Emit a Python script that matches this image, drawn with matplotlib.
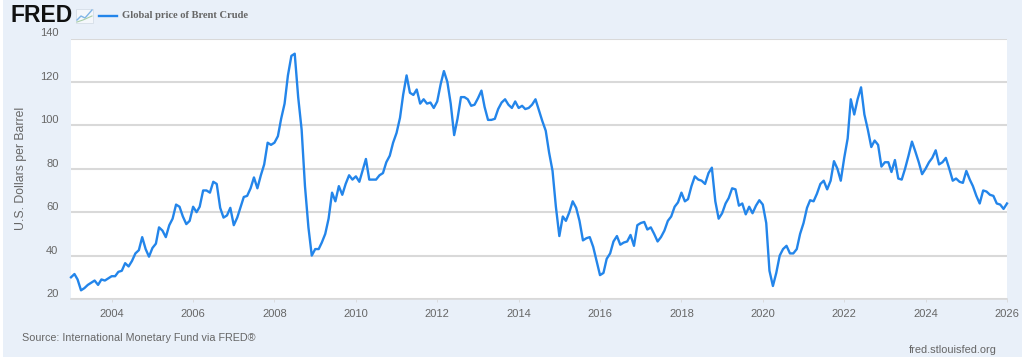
import matplotlib
matplotlib.use('Agg')
import matplotlib.pyplot as plt
import matplotlib.dates as mdates
import pandas as pd
from matplotlib.patches import Rectangle

W, H = 1024, 360

# monthly values, Jan 2003 - Jan 2026
brent = [
	30, 31.5, 29, 24, 25, 26.5, 27.5, 28.5, 26.5, 29, 28.5, 29.5,
	30.5, 30.5, 32.5, 33, 36.5, 35, 37.5, 41, 42.5, 48.5, 43, 39.5,
	43.5, 45.5, 53, 51.5, 48.5, 54, 57, 63.5, 62.5, 58, 54.5, 56,
	62.5, 60, 62.5, 70, 70, 69, 74, 73, 62, 57.5, 58.5, 62,
	54, 57.5, 62, 67, 67.5, 71, 76, 71, 77, 82, 92, 91,
	92, 95, 103, 110, 123, 132, 133, 113, 98, 72, 53, 40,
	43, 43, 46, 50, 57, 69, 65, 72, 68, 73, 77, 75,
	76.5, 74, 79, 84.5, 75, 75, 75, 77, 78, 83, 86, 92,
	96.5, 103.5, 114, 123, 115, 114, 116.5, 110, 112, 110, 110.5, 108,
	111, 119, 125, 120, 110, 95.5, 103, 113, 113, 112, 109, 109.5,
	112.5, 116, 108.5, 102.5, 102.5, 103, 107.5, 110.5, 112, 109.5, 108, 111,
	108, 109, 107.5, 108, 109.5, 112, 107, 102, 97.5, 87.5, 79, 62.5,
	49, 58, 56, 60, 65, 62, 56, 47, 48, 48.5, 44, 37.5,
	31, 32, 38.5, 41, 46.5, 49, 45, 46, 46.5, 49.5, 44.5, 54,
	55, 55.5, 52, 53, 50, 46.5, 48.5, 51.5, 56, 58, 62.5, 64.5,
	69, 65, 66, 72, 76.5, 75, 74.5, 73, 78, 80.5, 65, 57,
	59.5, 64, 66.5, 71, 70.5, 63, 64, 59, 62.5, 59.5, 63, 65.5,
	63.5, 55, 33, 26, 32, 40, 43, 44.5, 41, 41, 43, 50,
	55, 62, 65.5, 65, 68.5, 73, 74.5, 70.5, 74.5, 83.5, 80, 74.5,
	85, 94, 112, 105, 112, 117.5, 105, 98, 90, 93, 91, 81,
	83, 83, 78.5, 84, 75.5, 75, 80, 86, 92.5, 88, 83, 77.5,
	80, 83, 85, 88.5, 82, 83, 85, 80, 74.5, 75.5, 74, 73.5,
	79, 75, 72, 67.5, 64, 70, 69.5, 68, 67.5, 64, 63.5, 61.5,
	64,
]
year_ticks = list(range(2004, 2028, 2))
price_ticks = [20, 40, 60, 80, 100, 120, 140]

series_name = 'Global price of Brent Crude'
y_title = 'U.S. Dollars per Barrel'
source = 'International Monetary Fund via FRED\u00ae'

panel_bg = '#e9f0f9'
line_col = '#2385ea'
grid_col = '#d9d9d9'
text_col = '#666666'

plt.rcParams['font.family'] = ['Liberation Sans', 'DejaVu Sans']

def fx(px):
	return px / W

def fy(py):
	return 1 - py / H

fig = plt.figure(figsize=(W / 100, H / 100), dpi=100, facecolor='white')

#Sets up background panel
fig.add_artist(Rectangle((fx(3), fy(357)), fx(1022) - fx(3), fy(0) - fy(357),
	transform=fig.transFigure, facecolor=panel_bg, edgecolor='none', zorder=-5))

ax = fig.add_axes([fx(71), fy(299), fx(1007) - fx(71), fy(38.5) - fy(299)], facecolor='white')

dates = pd.date_range('2003-01-01', periods=len(brent), freq='MS')
ax.plot(dates, brent, color=line_col, linewidth=1.7, solid_joinstyle='round', clip_on=False, zorder=3)

ax.set_xlim(dates[0], dates[-1])
ax.set_ylim(20, 140)

ax.set_yticks(price_ticks)
ax.set_xticks([pd.Timestamp(f'{y}-01-01') for y in year_ticks if y <= 2026])
ax.xaxis.set_major_formatter(mdates.DateFormatter('%Y'))

ax.grid(axis='y', color=grid_col, linewidth=1.5)
ax.set_axisbelow(True)
ax.tick_params(axis='y', length=0, pad=9, labelsize=8, labelcolor=text_col)
ax.tick_params(axis='x', length=2, width=0.6, color=grid_col, pad=5.5, labelsize=8, labelcolor=text_col)
for lab in ax.get_yticklabels():
	lab.set_verticalalignment('bottom')
for side in ['top', 'left', 'right']:
	ax.spines[side].set_visible(False)
ax.spines['bottom'].set_color(grid_col)
ax.spines['bottom'].set_linewidth(1.2)

#Header
fig.text(fx(10.5), fy(16), 'FRED', fontsize=16.5, fontweight='bold', color='#111111', va='center', ha='left')
fig.add_artist(Rectangle((fx(76), fy(23)), fx(17), fy(9) - fy(23), transform=fig.transFigure,
	facecolor='#f4f7fb', edgecolor='#d5dee8', linewidth=0.6))
fig.add_artist(plt.Line2D([fx(77), fx(81), fx(85), fx(92)], [fy(20), fy(16), fy(18), fy(10)],
	transform=fig.transFigure, color='#7fb5e6', linewidth=1))
fig.add_artist(plt.Line2D([fx(77), fx(83), fx(92)], [fy(22), fy(20), fy(16)],
	transform=fig.transFigure, color='#a9cfa8', linewidth=0.8))
fig.add_artist(plt.Line2D([fx(99), fx(117)], [fy(16), fy(16)], transform=fig.transFigure,
	color=line_col, linewidth=1.7))
fig.text(fx(122), fy(16), series_name, fontsize=7.6, fontweight='bold', family='Liberation Serif',
	color='#666666', va='center', ha='left')

fig.text(fx(21), fy(168), y_title, fontsize=8.8, color=text_col, rotation=90, va='center', ha='center')
fig.text(fx(22), fy(338), 'Source: ' + source, fontsize=7.75, color=text_col, va='center', ha='left')
fig.text(fx(909), fy(350), 'fred.stlouisfed.org', fontsize=7.9, color=text_col, va='center', ha='left')

fig.savefig('out.png', dpi=100, facecolor='white')
